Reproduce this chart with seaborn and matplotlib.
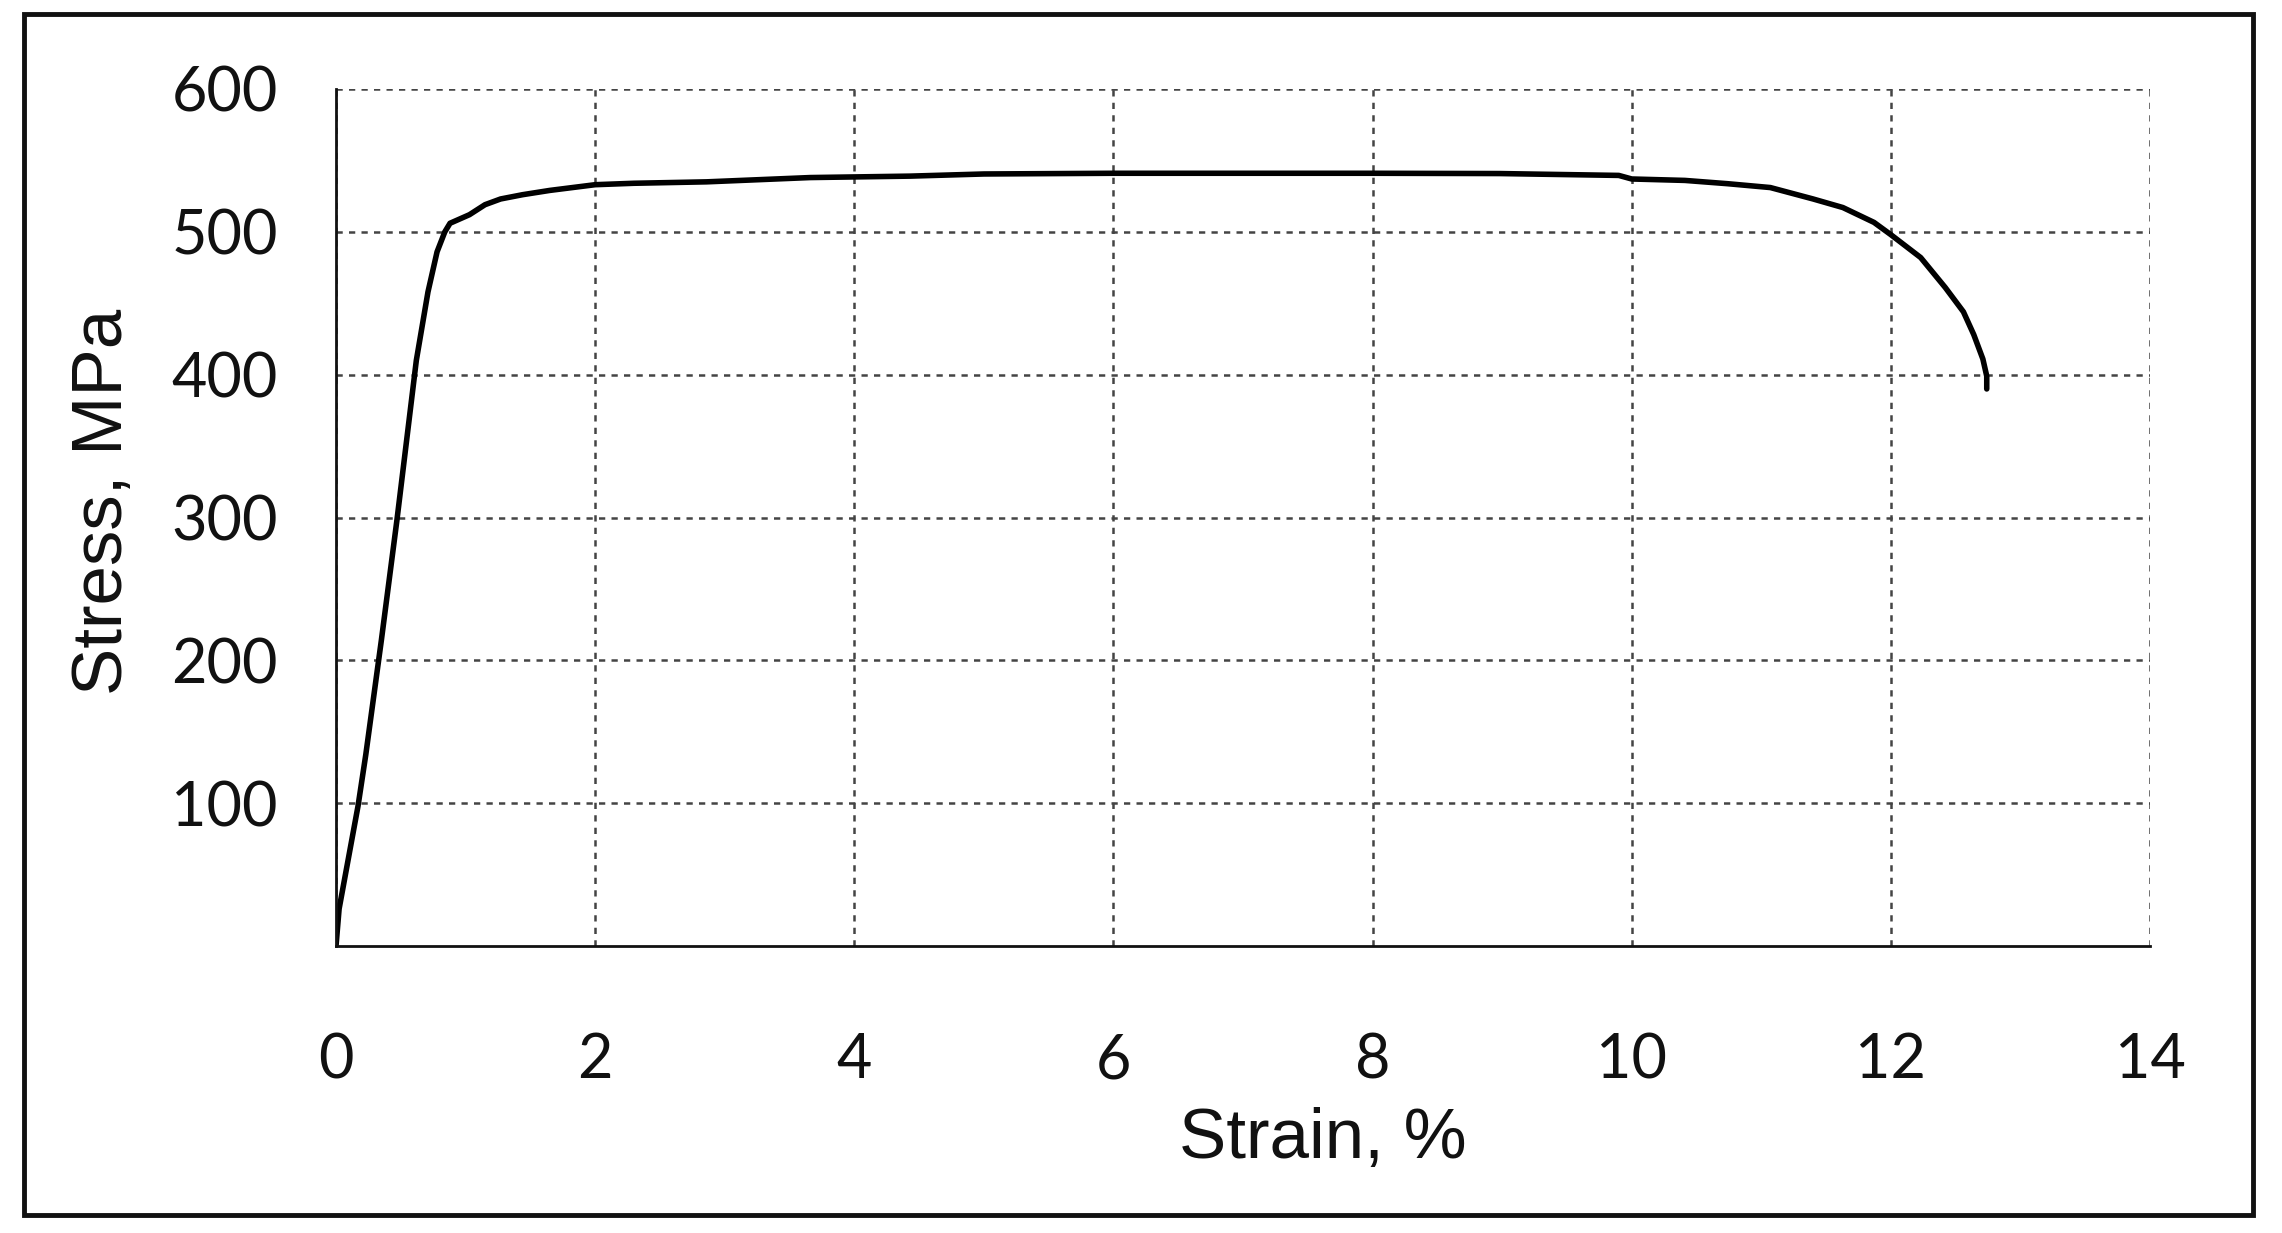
import matplotlib
matplotlib.use("Agg")
import matplotlib.pyplot as plt
import seaborn as sns
import pandas as pd
from matplotlib.patches import Rectangle

strain = [0.0, 0.024, 0.17, 0.23, 0.35, 0.47, 0.62, 0.71, 0.78, 0.84, 0.88,
          1.03, 1.15, 1.27, 1.44, 1.65, 2.0, 2.3, 2.86, 3.66, 4.43, 5.0, 6.0,
          7.0, 8.0, 8.98, 9.9, 10.0, 10.41, 10.74, 11.07, 11.40, 11.63, 11.87,
          12.0, 12.23, 12.42, 12.56, 12.64, 12.71, 12.74, 12.74]
stress = [0, 26, 98, 134, 214, 298, 410, 458, 486, 500, 506,
          512, 519, 523, 526, 529, 533, 534, 535, 538, 539, 540.5, 541,
          541, 541, 540.8, 539.5, 537, 536, 533.7, 531, 523, 517, 506.6,
          498, 482, 461, 444, 428, 411, 399, 390]
x_ticks = [0, 2, 4, 6, 8, 10, 12, 14]
y_ticks = [100, 200, 300, 400, 500, 600]

df = pd.DataFrame({"Strain": strain, "Stress": stress})

sns.set_style("white")
W, H = 2282, 1233
fig = plt.figure(figsize=(W / 100, H / 100), dpi=100)
ax = fig.add_axes([336 / W, 1 - 946 / H, (2150 - 336) / W, (946 - 89) / H])

sns.lineplot(data=df, x="Strain", y="Stress", sort=False, ax=ax,
             color="black", linewidth=4.0, estimator=None)

ax.set_xlim(0, 14)
ax.set_ylim(0, 600)
ax.set_xticks(x_ticks)
ax.set_yticks(y_ticks)
ax.set_xticklabels([str(v) for v in x_ticks], fontfamily="Lato", fontsize=44)
ax.set_yticklabels([str(v) for v in y_ticks], fontfamily="Lato", fontsize=44)
ax.tick_params(axis="x", length=0, pad=62, colors="#111111")
ax.tick_params(axis="y", length=0, pad=42, colors="#111111")

ax.grid(True, color="#444444", linestyle=(0, (2.5, 2.5)), linewidth=1.8)
ax.set_axisbelow(True)
for s in ["top", "right"]:
    ax.spines[s].set_visible(False)
for s in ["left", "bottom"]:
    ax.spines[s].set_color("#111111")
    ax.spines[s].set_linewidth(2.0)

ax.set_xlabel("Strain, %", fontfamily="Liberation Sans", fontsize=51, color="#111111")
ax.set_ylabel("Stress, MPa", fontfamily="Liberation Sans", fontsize=51, color="#111111")
ax.xaxis.set_label_coords(0.544, -0.226)
ax.yaxis.set_label_coords(-0.128, 0.518)
ax.xaxis.label.set_va("center")
ax.yaxis.label.set_va("center")

fig.patches.append(Rectangle((24 / W, 1 - 1215 / H), (2253 - 24) / W, (1215 - 14) / H,
                             transform=fig.transFigure, fill=False,
                             edgecolor="#111111", linewidth=3.5))

fig.savefig("out.png", dpi=100)
